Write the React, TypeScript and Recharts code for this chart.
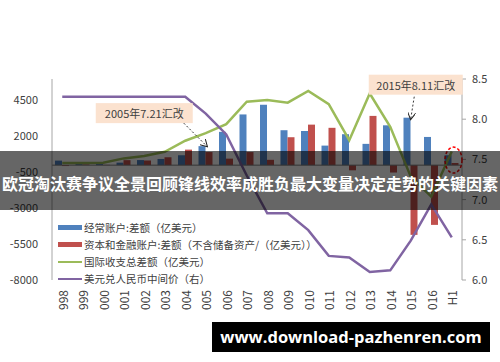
import React from "react";
import {
  ComposedChart,
  Bar,
  Line,
  XAxis,
  YAxis,
  ReferenceLine,
  ReferenceDot,
} from "recharts";

// x axis labels as they show in the picture (leading digit cut off)
const categories = [
  "998", "999", "000", "001", "002", "003", "004", "005", "006", "007",
  "008", "009", "010", "011", "012", "013", "014", "015", "016", "H1",
];

// 经常账户:差额（亿美元）
const currentAccount = [
  315, 211, 205, 174, 354, 431, 689, 1324, 2318, 3532,
  4206, 2433, 2378, 1361, 2154, 1482, 2774, 3306, 1964, 690,
];

// 资本和金融账户:差额（不含储备资产）
const capitalAccount = [
  -63, 52, 20, 348, 323, 549, 1082, 912, 453, 911,
  371, 1945, 2822, 2600, -360, 3430, -514, -4856, -4161, 150,
];

// 国际收支总差额（亿美元）
const overallBalance = [
  150, 150, 160, 470, 630, 930, 1700, 2230, 2855, 4420,
  4530, 4350, 5170, 4250, 1740, 4990, 2670, -800, -2200, 950,
];

// 美元兑人民币中间价（右）
const usdCny = [
  8.28, 8.28, 8.28, 8.28, 8.28, 8.28, 8.28, 8.07, 7.81, 7.3,
  6.83, 6.83, 6.62, 6.3, 6.28, 6.1, 6.12, 6.49, 6.94, 6.53,
];

const leftTicks = [-8000, -5500, -3000, -500, 2000, 4500];
const rightTicks = [6.0, 6.5, 7.0, 7.5, 8.0, 8.5];

const seriesNames = [
  "经常账户:差额（亿美元）",
  "资本和金融账户:差额（不含储备资产/（亿美元））",
  "国际收支总差额（亿美元）",
  "美元兑人民币中间价（右）",
];

const BLUE = "#4F81BD";
const RED = "#C0504D";
const GREEN = "#9BBB59";
const PURPLE = "#8064A2";
const TEXT = "#404040";
const AXIS = "#A6A6A6";
const FONT = "'Noto Sans CJK SC', 'Noto Sans', sans-serif";

const data = categories.map((c, i) => ({
  year: c,
  current: currentAccount[i],
  capital: capitalAccount[i],
  overall: overallBalance[i],
  rate: usdCny[i],
}));

function YearTick({ x, y, payload }: any) {
  return (
    <text
      x={x}
      y={y}
      transform={`rotate(-90 ${x} ${y})`}
      textAnchor="end"
      dominantBaseline="central"
      fontSize={12}
      fill={TEXT}
      fontFamily={FONT}
    >
      {payload.value}
    </text>
  );
}

// callout box with a dashed arrow to the point (cx, cy)
function callout(label: string, bx: number, by: number, bw: number, ax: number, ay: number, tx: number, ty: number) {
  return (props: any) => {
    const { cx, cy } = props;
    return (
      <g>
        <rect x={cx + bx} y={cy + by} width={bw} height={20} fill="#FBE2CF" />
        <text
          x={cx + bx + bw / 2}
          y={cy + by + 10}
          textAnchor="middle"
          dominantBaseline="central"
          fontSize={11}
          fill={TEXT}
          fontFamily={FONT}
        >
          {label}
        </text>
        <line
          x1={cx + ax}
          y1={cy + ay}
          x2={cx + tx}
          y2={cy + ty}
          stroke="#222"
          strokeWidth={0.9}
          strokeDasharray="2 2"
          markerEnd="url(#arrowHead)"
        />
      </g>
    );
  };
}

const ellipseShape = (props: any) => (
  <ellipse
    cx={props.cx + 1.75}
    cy={props.cy}
    rx={8.5}
    ry={13}
    fill="none"
    stroke="#FF0000"
    strokeWidth={1.5}
    strokeDasharray="3 2"
  />
);

export default function App() {
  return (
    <div style={{ position: "relative", width: 500, height: 362, background: "#fff", overflow: "hidden" }}>
      <style>{"body{margin:0}"}</style>
      <ComposedChart
        width={500}
        height={362}
        data={data}
        margin={{ top: 79, right: 0, bottom: 52, left: 0 }}
        barGap={0}
      >
        <defs>
          <marker id="arrowHead" markerWidth="8" markerHeight="8" refX="6" refY="4" orient="auto" markerUnits="userSpaceOnUse">
            <path d="M0,0 L7,4 L0,8" fill="none" stroke="#222" strokeWidth={1} />
          </marker>
        </defs>
        <XAxis
          dataKey="year"
          height={30}
          axisLine={false}
          tickLine={false}
          tickSize={0}
          tickMargin={10}
          interval={0}
          tick={<YearTick />}
        />
        <YAxis
          yAxisId="left"
          orientation="left"
          width={52}
          domain={[-8000, 6000]}
          ticks={leftTicks}
          allowDataOverflow
          axisLine={{ stroke: AXIS }}
          tickLine={false}
          tickSize={6}
          tickMargin={8}
          tick={{ fontSize: 11, fill: TEXT, fontFamily: FONT }}
        />
        <YAxis
          yAxisId="right"
          orientation="right"
          width={38}
          domain={[6, 8.5]}
          ticks={rightTicks}
          allowDataOverflow
          axisLine={{ stroke: AXIS }}
          tickLine={{ stroke: AXIS }}
          tickSize={4}
          tickMargin={6}
          tickFormatter={(v: number) => v.toFixed(1)}
          tick={{ fontSize: 11, fill: TEXT, fontFamily: FONT }}
        />
        <ReferenceLine yAxisId="left" y={0} stroke="#7F7F7F" />
        <Bar yAxisId="left" dataKey="current" fill={BLUE} barSize={7} isAnimationActive={false} />
        <Bar yAxisId="left" dataKey="capital" fill={RED} barSize={7} isAnimationActive={false} />
        <Line
          yAxisId="left"
          dataKey="overall"
          stroke={GREEN}
          strokeWidth={2.5}
          dot={false}
          type="linear"
          isAnimationActive={false}
        />
        <Line
          yAxisId="right"
          dataKey="rate"
          stroke={PURPLE}
          strokeWidth={2.5}
          dot={false}
          type="linear"
          isAnimationActive={false}
        />
        <ReferenceDot
          yAxisId="left"
          x="005"
          y={currentAccount[7]}
          shape={callout("2005年7.21汇改", -110, -43, 97, -22, -23, 1, 0)}
        />
        <ReferenceDot
          yAxisId="left"
          x="015"
          y={currentAccount[17]}
          shape={callout("2015年8.11汇改", -42, -43, 94, 3.5, -21, 0, 1)}
        />
        <ReferenceDot yAxisId="left" x="H1" y={350} shape={ellipseShape} />
      </ComposedChart>

      {/* legend */}
      <div style={{ position: "absolute", left: 58, top: 219, fontFamily: FONT, fontSize: 10.5, color: TEXT, lineHeight: "17px" }}>
        {seriesNames.map((name, i) => (
          <div key={name} style={{ display: "flex", alignItems: "center", height: 17, whiteSpace: "nowrap" }}>
            <span
              style={{
                display: "inline-block",
                width: 24,
                height: i < 2 ? 5 : 2,
                background: [BLUE, RED, GREEN, PURPLE][i],
                marginRight: 2,
              }}
            />
            {name}
          </div>
        ))}
      </div>

      {/* headline band */}
      <div
        style={{
          position: "absolute",
          left: 0,
          top: 151,
          width: 500,
          height: 59,
          background: "rgba(0,0,0,0.6)",
          color: "#fff",
          fontFamily: FONT,
          fontWeight: 700,
          fontSize: 16,
          lineHeight: "64px",
          textAlign: "center",
          whiteSpace: "nowrap",
        }}
      >
        欧冠淘汰赛争议全景回顾锋线效率成胜负最大变量决定走势的关键因素
      </div>

      {/* site mark */}
      <div
        style={{
          position: "absolute",
          left: 212,
          top: 322,
          width: 278,
          height: 30,
          background: "#000",
          color: "#fff",
          fontFamily: "'Open Sans', 'DejaVu Sans', sans-serif",
          fontWeight: 700,
          fontSize: 16.5,
          lineHeight: "30px",
          textAlign: "center",
          whiteSpace: "nowrap",
        }}
      >
        www.download-pazhenren.com
      </div>
    </div>
  );
}
